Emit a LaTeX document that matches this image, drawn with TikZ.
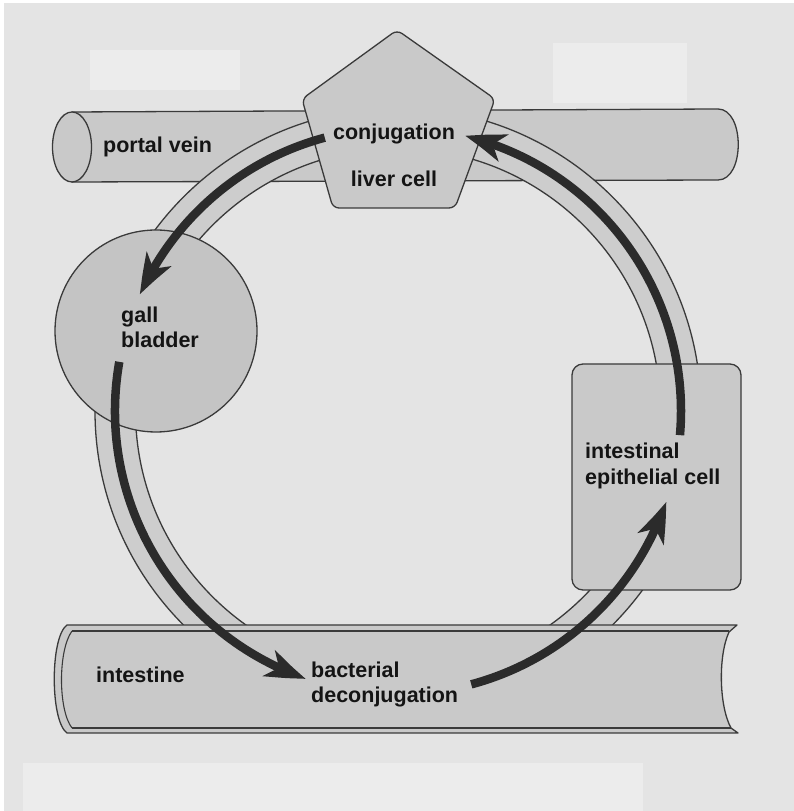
\documentclass[tikz,border=0pt]{standalone}
\usepackage{fontspec}
\setmainfont{Liberation Sans}
\usetikzlibrary{arrows.meta,bending}

\definecolor{paper}{HTML}{E4E4E4}
\definecolor{patch}{HTML}{ECECEC}
\definecolor{organ}{HTML}{C9C9C9}
\definecolor{duct}{HTML}{CDCDCD}
\definecolor{bladderfill}{HTML}{C4C4C4}
\definecolor{edge}{HTML}{3A3A3A}
\definecolor{flowink}{HTML}{2B2B2B}
\definecolor{ink}{HTML}{141414}

\tikzset{
  outline/.style={draw=edge, line width=1.3pt},
  organbody/.style={outline, fill=organ},
  flow/.style={draw=flowink, line width=8.5pt,
    -{Stealth[length=40pt, width=28pt, inset=11pt, bend]}},
  lbl/.style={font=\bfseries\fontsize{21.5}{25}\selectfont, text=ink, inner sep=0pt},
}

\begin{document}
\begin{tikzpicture}[x=1pt, y=1pt, line join=round]
  % page and background
  \useasboundingbox (0,0) rectangle (794,811);
  \fill[white] (0,0) rectangle (794,811);
  \fill[paper] (4,0) rectangle (794,808);
  \fill[patch] (90,721) rectangle (240,761);
  \fill[patch] (553,708) rectangle (687,768);
  \fill[patch] (23,0) rectangle (643,48);

  % portal vein (cylinder seen from the side)
  \path[organbody] (72,699) -- (718,702)
    .. controls (745,702) and (745,631) .. (718,631) -- (72,629) -- cycle;
  \draw[organbody] (72,664) ellipse[x radius=19.5, y radius=35];

  % enterohepatic circulation duct
  \coordinate (ring) at (398,400);
  \fill[duct, even odd rule] (ring) circle[radius=303] (ring) circle[radius=262.5];
  \draw[outline] (ring) circle[radius=303];
  \draw[outline] (ring) circle[radius=262.5];

  % gall bladder
  \node[circle, minimum size=202pt, inner sep=0pt, outline, fill=bladderfill] (gb) at (156,480) {};

  % liver cell
  \draw[organbody, rounded corners=6pt] (397,781) -- (495,712) -- (455,603)
    -- (333,603) -- (302,712) -- cycle;

  % intestinal epithelial cell
  \node[rectangle, rounded corners=11pt, organbody, minimum width=169pt,
        minimum height=226pt, inner sep=0pt] (epi) at (656.5,334) {};

  % intestine (open at the right end)
  \path[fill=organ] (67,186) -- (737,186) -- (729,179)
    .. controls (718,155) and (719,105) .. (731,83) -- (738,78) -- (67,78)
    .. controls (50,90) and (50,174) .. (67,186) -- cycle;
  \draw[outline] (67,186) -- (737,186) -- (729,179)
    .. controls (718,155) and (719,105) .. (731,83) -- (738,78) -- (67,78)
    .. controls (50,90) and (50,174) .. (67,186) -- cycle;
  \draw[outline, line width=1.1pt] (72,180) -- (729,180);
  \draw[outline, line width=1.1pt] (72,83) -- (731,83);
  \draw[outline, line width=1.1pt] (72,180) .. controls (58,161) and (58,101) .. (72,83);

  % flow of bile acids round the cycle
  \path (ring) ++(105:283) coordinate (liverout);
  \path (ring) ++(170:283) coordinate (bladderout);
  \path (ring) ++(-75:283) coordinate (gutout);
  \path (ring) ++(-4.9:283) coordinate (epiout);
  \draw[flow] (liverout) arc[start angle=105, end angle=155.7, radius=283];
  \draw[flow] (bladderout) arc[start angle=170, end angle=251, radius=283];
  \draw[flow] (gutout) arc[start angle=-75, end angle=-18.7, radius=283];
  \draw[flow] (epiout) arc[start angle=-4.9, end angle=76.3, radius=283];

  % labels
  \node[lbl, anchor=base west] (pv) at (103,658) {portal vein};
  \node[lbl, anchor=base] (conj) at (394,671) {conjugation};
  \node[lbl, anchor=base] (liver) at (394,624) {liver cell};
  \node[lbl, anchor=base west] (gall) at (121,488) {gall};
  \node[lbl, anchor=base west] (bladder) at (121,463) {bladder};
  \node[lbl, anchor=base west] (intl) at (585,352) {intestinal};
  \node[lbl, anchor=base west] (epic) at (585,326) {epithelial cell};
  \node[lbl, anchor=base west] (gut) at (96,128) {intestine};
  \node[lbl, anchor=base west] (bact) at (311,133) {bacterial};
  \node[lbl, anchor=base west] (deconj) at (311,108) {deconjugation};
\end{tikzpicture}
\end{document}
